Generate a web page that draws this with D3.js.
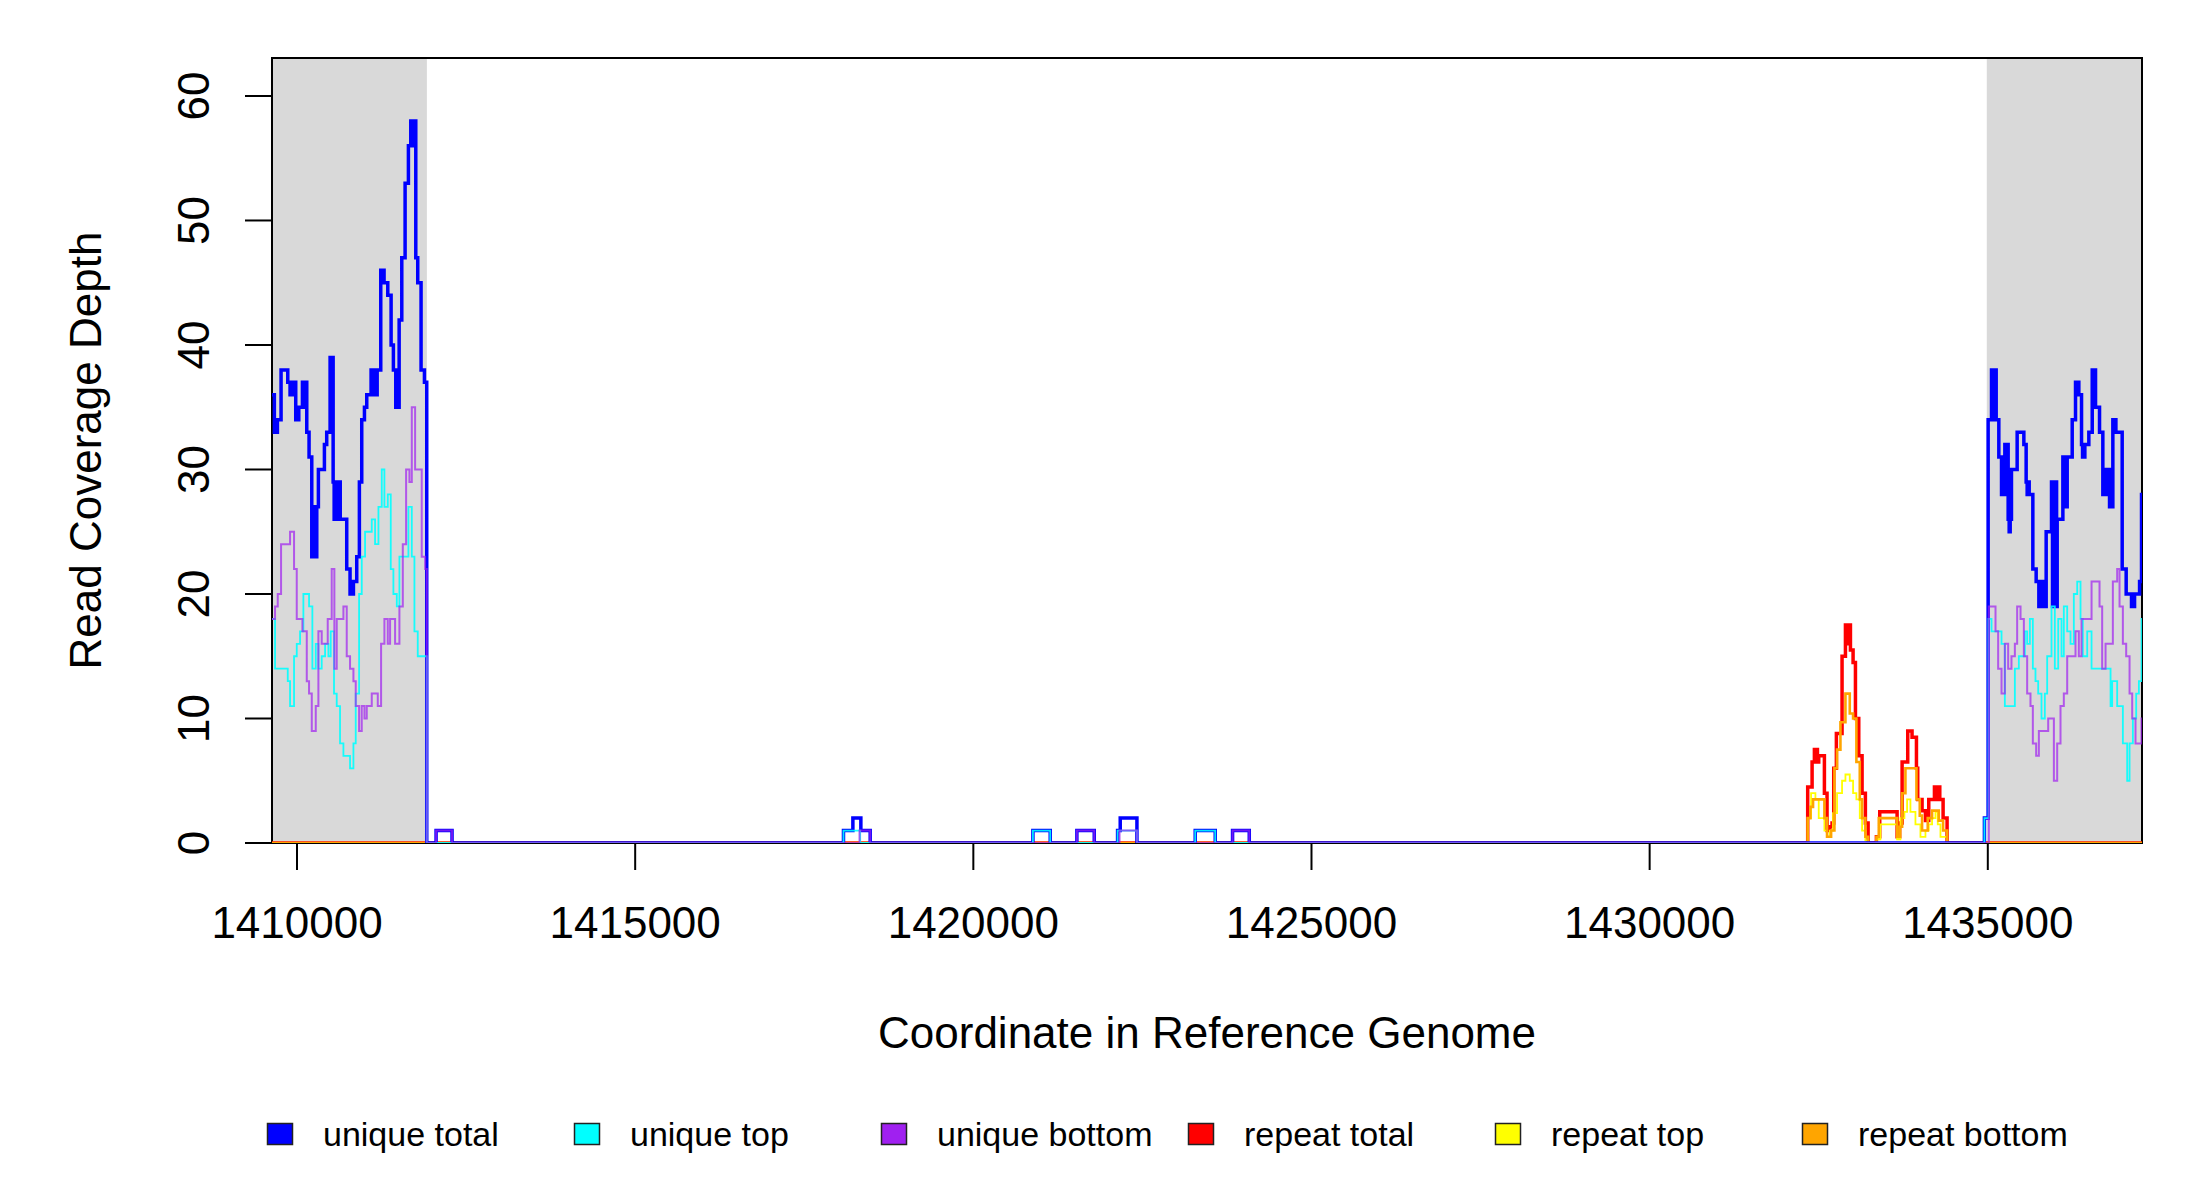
<!DOCTYPE html>
<html>
<head>
<meta charset="utf-8">
<script src="https://cdn.jsdelivr.net/npm/d3@7"></script>
<style>
  body { margin: 0; background: #fff; }
  svg { display: block; }
  text { font-family: "Liberation Sans", Arial, sans-serif; fill: #000; }
</style>
</head>
<body>
<svg id="chart"></svg>
<script>
// ---- data (positions in bp, values = read depth) ----
const xDomain = [1409630, 1437280];
const yMax = 63.05;
const flankRegions = [[1409630, 1411920], [1434985, 1437280]];
const xTicks = [1410000, 1415000, 1420000, 1425000, 1430000, 1435000];
const yTicks = [0, 10, 20, 30, 40, 50, 60];
const seriesNames = ["unique total", "unique top", "unique bottom", "repeat total", "repeat top", "repeat bottom"];
const seriesColors = ["#0000FF", "#00FFFF", "#A020F0", "#FF0000", "#FFFF00", "#FFA500"];

const uniqueTotal = [
  [1409630,36],[1409665,33],[1409680,34],[1409695,33],[1409710,34],[1409764,38],[1409863,37],[1409897,36],
  [1409912,37],[1409927,36],[1409942,37],[1409981,34],[1409996,35],[1410011,34],[1410026,35],[1410080,37],
  [1410095,35],[1410110,37],[1410125,35],[1410135,37],[1410144,33],[1410178,31],[1410218,23],[1410233,27],
  [1410248,23],[1410263,27],[1410278,23],[1410292,27],[1410316,30],[1410405,32],[1410439,33],[1410489,39],
  [1410504,33],[1410519,39],[1410534,29],[1410549,26],[1410564,29],[1410579,26],[1410594,29],[1410609,26],
  [1410624,29],[1410639,26],[1410735,22],[1410784,20],[1410799,21],[1410814,20],[1410834,21],[1410883,23],
  [1410922,29],[1410957,34],[1410997,35],[1411031,36],[1411095,38],[1411110,36],[1411125,38],[1411140,36],
  [1411155,38],[1411170,36],[1411185,38],[1411238,46],[1411253,45],[1411268,46],[1411287,45],[1411342,44],
  [1411391,40],[1411425,38],[1411460,35],[1411475,38],[1411490,35],[1411510,42],[1411549,47],[1411598,53],
  [1411647,56],[1411682,58],[1411697,56],[1411712,58],[1411727,56],[1411742,58],[1411756,47],[1411785,45],
  [1411834,38],[1411884,37],[1411918,0],
  [1412056,1],[1412292,0],[1418080,1],[1418219,2],[1418337,1],[1418475,0],[1420881,1],[1421137,0],
  [1421531,1],[1421788,0],[1422133,1],[1422172,2],[1422419,0],[1423281,1],[1423577,0],[1423833,1],
  [1424080,0],[1434950,2],
  [1435005,34],[1435055,38],[1435070,34],[1435085,38],[1435100,34],[1435115,38],[1435124,34],[1435163,31],
  [1435203,28],[1435218,31],[1435237,28],[1435252,32],[1435267,28],[1435282,32],[1435301,26],[1435316,25],
  [1435331,26],[1435350,30],[1435434,33],[1435533,32],[1435567,29],[1435582,28],[1435597,29],[1435612,28],
  [1435666,22],[1435715,21],[1435755,19],[1435770,21],[1435785,19],[1435800,21],[1435815,19],[1435830,21],
  [1435845,19],[1435863,25],[1435942,29],[1435957,19],[1435972,29],[1435987,19],[1436002,29],[1436017,19],
  [1436026,26],[1436110,31],[1436125,27],[1436140,31],[1436155,27],[1436174,31],[1436248,34],[1436297,37],
  [1436346,36],[1436386,32],[1436401,31],[1436416,32],[1436431,31],[1436435,32],[1436494,33],[1436544,38],
  [1436559,35],[1436574,38],[1436593,35],[1436652,33],[1436701,28],[1436716,30],[1436731,28],[1436751,30],
  [1436800,27],[1436815,30],[1436830,27],[1436849,34],[1436864,33],[1436879,34],[1436894,33],[1436987,22],
  [1437046,20],[1437125,19],[1437140,20],[1437155,19],[1437170,20],[1437244,21],[1437273,28]
];

const uniqueTop = [
  [1409630,18],[1409675,14],[1409863,13],[1409897,11],[1409956,15],[1409996,16],[1410045,17],[1410094,20],
  [1410178,19],[1410227,14],[1410277,16],[1410316,14],[1410365,15],[1410415,16],[1410464,15],[1410498,17],
  [1410547,12],[1410587,11],[1410636,8],[1410686,7],[1410784,6],[1410834,8],[1410868,12],[1410918,20],
  [1410957,23],[1411006,25],[1411105,26],[1411154,24],[1411204,27],[1411253,30],[1411292,27],[1411342,28],
  [1411386,22],[1411425,20],[1411475,19],[1411514,23],[1411647,27],[1411697,23],[1411736,17],[1411785,15],
  [1411918,0],
  [1418080,1],[1418327,0],[1420881,1],[1421137,0],[1422133,1],[1422419,0],[1423281,1],[1423577,0],
  [1434950,2],
  [1435010,18],[1435055,17],[1435203,16],[1435252,11],[1435400,14],[1435459,15],[1435548,17],[1435582,16],
  [1435622,18],[1435666,14],[1435705,13],[1435745,12],[1435794,10],[1435843,12],[1435878,15],[1435942,19],
  [1435991,14],[1436041,18],[1436090,15],[1436124,19],[1436174,17],[1436223,16],[1436272,20],[1436322,21],
  [1436371,18],[1436405,15],[1436470,17],[1436534,14],[1436815,11],[1436839,13],[1436913,11],[1436997,8],
  [1437061,5],[1437096,8],[1437145,10],[1437194,12],[1437234,13],[1437273,18]
];

const uniqueBottom = [
  [1409630,18],[1409675,19],[1409715,20],[1409764,24],[1409897,25],[1409956,22],[1409996,18],[1410080,17],
  [1410144,13],[1410178,12],[1410218,9],[1410277,11],[1410316,17],[1410365,16],[1410454,18],[1410513,22],
  [1410552,14],[1410587,18],[1410686,19],[1410735,15],[1410784,14],[1410834,13],[1410868,11],[1410918,9],
  [1410957,11],[1410997,10],[1411031,11],[1411105,12],[1411194,11],[1411243,16],[1411292,18],[1411342,16],
  [1411376,18],[1411450,16],[1411514,19],[1411564,24],[1411613,30],[1411662,29],[1411697,35],[1411746,30],
  [1411844,23],[1411894,22],[1411918,0],
  [1412056,1],[1412292,0],[1418317,1],[1418475,0],[1421531,1],[1421788,0],[1422162,1],[1422419,0],
  [1423833,1],[1424080,0],
  [1435015,19],[1435114,17],[1435153,14],[1435203,12],[1435252,16],[1435301,14],[1435350,15],[1435400,16],
  [1435434,19],[1435484,18],[1435533,15],[1435582,12],[1435631,11],[1435666,8],[1435715,7],[1435755,9],
  [1435893,10],[1435977,5],[1436026,8],[1436075,11],[1436124,12],[1436174,15],[1436297,17],[1436346,15],
  [1436386,18],[1436534,21],[1436652,19],[1436691,14],[1436741,16],[1436849,21],[1436913,22],[1436948,19],
  [1436997,16],[1437046,15],[1437096,12],[1437135,10],[1437184,8],[1437273,10]
];

const repeatTotal = [
  [1409630,0],[1432337,4.5],[1432402,6.5],[1432436,7.5],[1432451,6.5],[1432466,7.5],[1432481,6.5],[1432500,7],
  [1432584,4],[1432623,1],[1432663,1.3],[1432697,1.6],[1432722,6],[1432761,8.8],[1432845,15],[1432895,17.5],
  [1432910,16],[1432925,17.5],[1432940,16],[1432955,17.5],[1432969,15.5],[1433008,14.5],[1433043,10],
  [1433092,7],[1433141,4],[1433190,1.6],[1433230,0],[1433353,0.5],[1433402,2.5],[1433659,0.5],[1433698,1.6],
  [1433733,6.5],[1433816,9],[1433880,8.5],[1433945,6],[1433964,3.5],[1434028,2.6],[1434078,1.8],[1434127,3.5],
  [1434211,4.5],[1434226,3.5],[1434241,4.5],[1434256,3.5],[1434275,4.5],[1434290,3.5],[1434339,2],[1434398,0]
];

const repeatTop = [
  [1409630,0],[1432337,2],[1432387,4],[1432451,3.5],[1432500,2],[1432584,1],[1432623,0.5],[1432663,1],
  [1432712,2.4],[1432771,4],[1432845,5],[1432895,5.5],[1432959,5],[1433008,4],[1433057,3.5],[1433107,2],
  [1433141,1],[1433190,0.2],[1433230,0],[1433353,0.3],[1433412,1.5],[1433659,0.3],[1433708,2],[1433767,2.5],
  [1433807,3.5],[1433856,2.5],[1433930,1.5],[1434004,0.5],[1434078,1],[1434127,1.5],[1434176,2],[1434226,2.5],
  [1434260,1.5],[1434300,0.5],[1434398,0]
];

const repeatBottom = [
  [1409630,0],[1432337,2],[1432377,2.9],[1432416,3.5],[1432584,2],[1432623,0.5],[1432683,1],[1432732,6],
  [1432771,7.5],[1432821,9.7],[1432895,12],[1432959,10.4],[1433008,10],[1433057,6.5],[1433107,3.5],[1433141,2],
  [1433190,0.5],[1433230,0],[1433353,0.5],[1433388,2],[1433659,0.5],[1433698,1.3],[1433733,4],[1433782,6],
  [1433945,3.5],[1433994,2.2],[1434028,1],[1434112,2],[1434176,2.6],[1434275,1.8],[1434339,1],[1434398,0]
];

// ---- layout ----
const width = 2200, height = 1200;
const plot = { left: 272, right: 2142, top: 58, bottom: 843 };

const svg = d3.select("#chart")
  .attr("width", width)
  .attr("height", height);

svg.append("rect").attr("width", width).attr("height", height).attr("fill", "#fff");

const x = d3.scaleLinear().domain(xDomain).range([plot.left, plot.right]);
const y = d3.scaleLinear().domain([0, yMax]).range([plot.bottom, plot.top]);

// grey flank regions
svg.append("g").selectAll("rect")
  .data(flankRegions)
  .join("rect")
  .attr("x", d => x(d[0]))
  .attr("width", d => x(d[1]) - x(d[0]))
  .attr("y", y(yMax))
  .attr("height", y(0) - y(yMax))
  .attr("fill", "#D9D9D9");

// frame (drawn before the tracks, as in base R plot + lines)
svg.append("rect")
  .attr("x", plot.left).attr("y", plot.top)
  .attr("width", plot.right - plot.left).attr("height", plot.bottom - plot.top)
  .attr("fill", "none")
  .attr("stroke", "#000")
  .attr("stroke-width", 2);

// x axis
const xAxis = svg.append("g");
xAxis.append("line")
  .attr("x1", x(xTicks[0])).attr("x2", x(xTicks[xTicks.length - 1]))
  .attr("y1", plot.bottom).attr("y2", plot.bottom)
  .attr("stroke", "#000").attr("stroke-width", 2);
xAxis.selectAll(".tick")
  .data(xTicks)
  .join("line")
  .attr("x1", d => x(d)).attr("x2", d => x(d))
  .attr("y1", plot.bottom).attr("y2", plot.bottom + 27)
  .attr("stroke", "#000").attr("stroke-width", 2);
xAxis.selectAll("text")
  .data(xTicks)
  .join("text")
  .attr("x", d => x(d))
  .attr("y", 938)
  .attr("text-anchor", "middle")
  .style("font-size", "44px")
  .text(d => d);

// y axis
const yAxis = svg.append("g");
yAxis.selectAll(".tick")
  .data(yTicks)
  .join("line")
  .attr("x1", plot.left - 27).attr("x2", plot.left)
  .attr("y1", d => y(d)).attr("y2", d => y(d))
  .attr("stroke", "#000").attr("stroke-width", 2);
yAxis.selectAll("text")
  .data(yTicks)
  .join("text")
  .attr("transform", d => `translate(209,${y(d)}) rotate(-90)`)
  .attr("text-anchor", "middle")
  .style("font-size", "44px")
  .text(d => d);

// step lines, clipped to the plot region
const stepLine = d3.line()
  .x(d => x(d[0]))
  .y(d => y(d[1]))
  .curve(d3.curveStepAfter);

svg.append("clipPath").attr("id", "plotClip")
  .append("rect")
  .attr("x", plot.left).attr("y", plot.top)
  .attr("width", plot.right - plot.left).attr("height", plot.bottom - plot.top);

const lineGroup = svg.append("g").attr("clip-path", "url(#plotClip)");

// repeats first, unique tracks on top of them at the baseline
const tracks = [
  { data: repeatTotal, color: seriesColors[3], w: 3.5, op: 1 },
  { data: repeatTop, color: seriesColors[4], w: 1.8, op: 1 },
  { data: repeatBottom, color: seriesColors[5], w: 2.6, op: 1 },
  { data: uniqueTotal, color: seriesColors[0], w: 3.5, op: 1 },
  { data: uniqueTop, color: seriesColors[1], w: 1.8, op: 0.9 },
  { data: uniqueBottom, color: seriesColors[2], w: 2, op: 0.7 }
];

tracks.forEach(t => {
  const pts = t.data.concat([[xDomain[1], t.data[t.data.length - 1][1]]]);
  lineGroup.append("path")
    .attr("d", stepLine(pts))
    .attr("fill", "none")
    .attr("stroke", t.color)
    .attr("stroke-width", t.w)
    .attr("stroke-opacity", t.op)
    .attr("stroke-linejoin", "miter");
});

// axis titles
svg.append("text")
  .attr("x", (plot.left + plot.right) / 2)
  .attr("y", 1048)
  .attr("text-anchor", "middle")
  .style("font-size", "44px")
  .text("Coordinate in Reference Genome");

svg.append("text")
  .attr("transform", `translate(101,${(plot.top + plot.bottom) / 2}) rotate(-90)`)
  .attr("text-anchor", "middle")
  .style("font-size", "44px")
  .text("Read Coverage Depth");

// legend
const legendX = d3.scalePoint().domain(seriesNames).range([280, 1815]);
const legend = svg.append("g").selectAll("g")
  .data(seriesNames)
  .join("g")
  .attr("transform", d => `translate(${legendX(d)},1134)`);

legend.append("rect")
  .attr("x", -12.5).attr("y", -10.5)
  .attr("width", 25).attr("height", 21)
  .attr("fill", (d, i) => seriesColors[i])
  .attr("stroke", "#222")
  .attr("stroke-width", 1.5);

legend.append("text")
  .attr("x", 43)
  .attr("y", 12)
  .style("font-size", "34px")
  .text(d => d);
</script>
</body>
</html>
